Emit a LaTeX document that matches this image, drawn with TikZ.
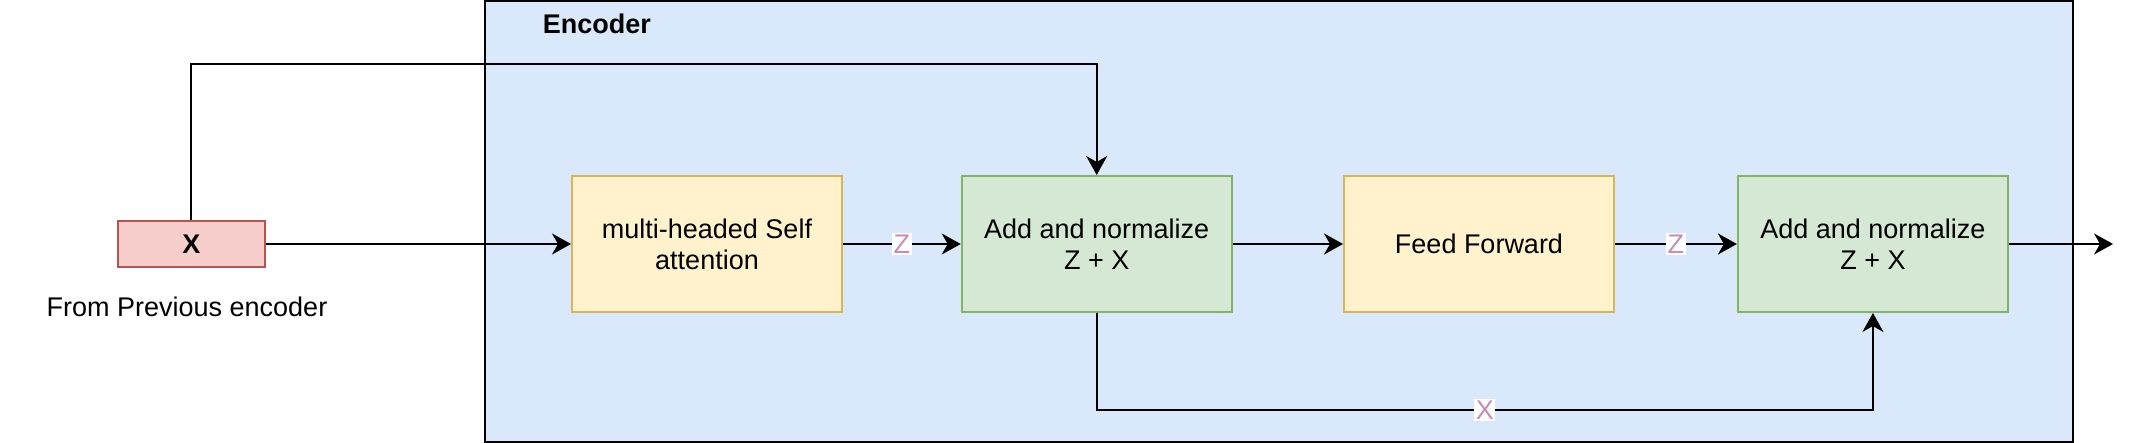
\documentclass[tikz,border=0pt]{standalone}
\usepackage{fontspec}
\setmainfont{Liberation Sans}
\usetikzlibrary{arrows.meta}
\definecolor{encfill}{HTML}{DAE8FC}
\definecolor{yfill}{HTML}{FFF2CC}
\definecolor{ystroke}{HTML}{D6B656}
\definecolor{gfill}{HTML}{D5E8D4}
\definecolor{gstroke}{HTML}{82B366}
\definecolor{rfill}{HTML}{F8CECC}
\definecolor{rstroke}{HTML}{B85450}
\definecolor{labcol}{HTML}{C48FB6}
\begin{document}
\begin{tikzpicture}[x=0.5pt,y=-0.5pt,
  every node/.style={font=\fontsize{13.5}{15.5}\selectfont},
  box/.style={draw, line width=1pt, minimum width=135pt, minimum height=68pt, align=center, inner sep=0pt},
  ybox/.style={box, fill=yfill, draw=ystroke},
  gbox/.style={box, fill=gfill, draw=gstroke},
  conn/.style={line width=1.1pt, -{Stealth[length=9.5pt,width=10.5pt,inset=3pt]}},
  lab/.style={fill=white, text=labcol, inner sep=0.8pt}
]
\useasboundingbox (0,0) rectangle (2135,443);
\node[draw=black, fill=encfill, line width=1pt, minimum width=794pt, minimum height=220.5pt, inner sep=0pt, outer sep=0pt] (enc) at (1279,221.5) {};
\node[anchor=west, inner sep=0pt, font=\fontsize{13.5}{15.5}\selectfont\bfseries] (enclab) at (542.5,24) {Encoder};
\node[draw=rstroke, fill=rfill, line width=1pt, minimum width=73.5pt, minimum height=23pt, inner sep=0pt, font=\fontsize{13.5}{15.5}\selectfont\bfseries] (x) at (191.3,244) {X};
\node (from) at (187,307) {From Previous encoder};
\node[ybox] (mhsa) at (707,244) {multi-headed Self\\attention};
\node[gbox] (add1) at (1096.7,244) {Add and normalize\\Z + X};
\node[ybox] (ff) at (1479,244) {Feed Forward};
\node[gbox] (add2) at (1872.9,244) {Add and normalize\\Z + X};
\coordinate (toprow) at (0,64);
\coordinate (botrow) at (0,410);
\coordinate (out) at (2113,244);
\draw[conn] (x) -- (mhsa);
\draw[conn] (x.north) -- (x.north |- toprow) -| (add1.north);
\draw[conn] (mhsa) -- (add1) node[lab, midway] {Z};
\draw[conn] (add1) -- (ff);
\draw[conn] (ff) -- (add2) node[lab, midway] {Z};
\draw[conn] (add1.south) -- (add1.south |- botrow) -| (add2.south) node[lab, pos=0.25] {X};
\draw[conn] (add2) -- (out);
\end{tikzpicture}
\end{document}
